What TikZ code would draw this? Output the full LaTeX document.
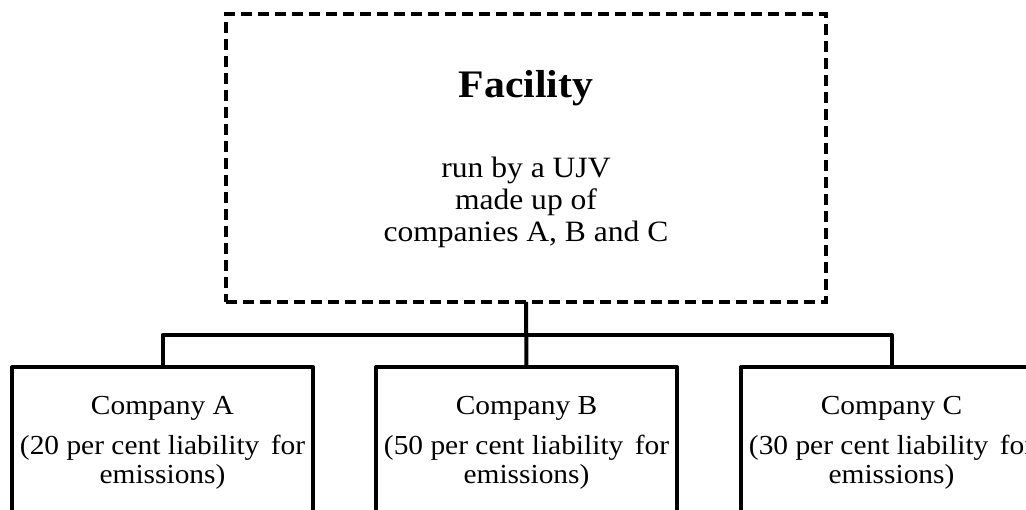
\documentclass[tikz,border=0pt]{standalone}
\usepackage{fontspec}
\setmainfont{Liberation Serif}
\newfontfamily\chartfont{Liberation Serif}[FakeStretch=1.07]
\begin{document}
\begin{tikzpicture}[x=1pt,y=-1pt,
  facilitybox/.style={draw, line width=4pt, dash pattern=on 11pt off 6pt,
    minimum width=600pt, minimum height=288pt, inner sep=0pt, outer sep=0pt},
  companybox/.style={draw, line width=4pt, line join=round,
    minimum width=301pt, minimum height=193pt, inner sep=0pt, outer sep=0pt},
  title/.style={anchor=base, inner sep=0pt, font=\chartfont\bfseries\fontsize{39}{44}\selectfont},
  toptext/.style={anchor=base, inner sep=0pt, font=\chartfont\fontsize{29.5}{33}\selectfont},
  cotext/.style={anchor=base, inner sep=0pt, font=\chartfont\fontsize{27.5}{31}\selectfont},
  link/.style={line width=4pt, line join=round}]
  \useasboundingbox (0,0) rectangle (1026,510);
  \clip (0,0) rectangle (1026,510);

  % facility run by the joint venture
  \node[facilitybox] (fac) at (526,158) {};
  \node[title] (factitle) at (526,98) {Facility};
  \node[toptext] (fac1) at (526,178) {run by a UJV};
  \node[toptext] (fac2) at (526,210) {made up of};
  \node[toptext] (fac3) at (526,242) {companies A, B and C};

  % member companies
  \node[companybox] (coA) at (162.5,463.5) {};
  \node[companybox] (coB) at (526.5,463.5) {};
  \node[companybox] (coC) at (891.5,463.5) {};

  \foreach \n/\x/\p in {A/162.5/20, B/526.5/50, C/891.5/30}{
    \node[cotext] (name\n) at (\x,415) {Company \n};
    \node[cotext] (share\n) at (\x,455) {(\p\ per cent liability\hspace{4pt} for};
    \node[cotext] (emis\n) at (\x,484) {emissions)};
  }

  % connectors
  \coordinate (bus) at (526,335);
  \draw[link] (fac.south) -- (coB.north);
  \draw[link] (coA.north) -- (coA.north |- bus) -- (coC.north |- bus) -- (coC.north);
\end{tikzpicture}
\end{document}
